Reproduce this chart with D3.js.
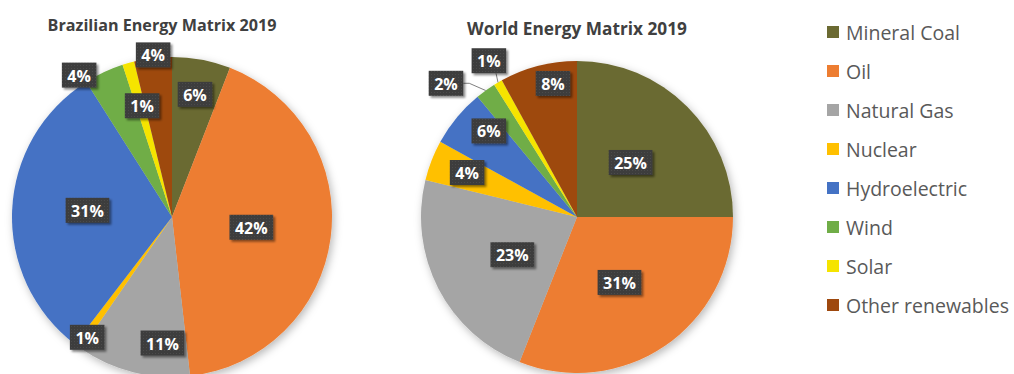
<!DOCTYPE html>
<html>
<head>
<meta charset="utf-8">
<script src="https://cdn.jsdelivr.net/npm/d3@7"></script>
<style>
  html, body { margin: 0; padding: 0; background: #fff; }
  svg { display: block; }
</style>
</head>
<body>
<svg id="chart" width="1014" height="374"></svg>
<script>
// ---- data ----
const categories = ["Mineral Coal", "Oil", "Natural Gas", "Nuclear", "Hydroelectric", "Wind", "Solar", "Other renewables"];
const brazilValues = [5.9, 42.3, 11.4, 0.8, 30.6, 4.0, 1.2, 3.8];
const worldValues = [25.0, 31.0, 22.8, 4.2, 6.0, 2.1, 0.9, 8.0];
const titles = ["Brazilian Energy Matrix 2019", "World Energy Matrix 2019"];
const colors = ["#6b6a32", "#ed7d31", "#a5a5a5", "#ffc000", "#4472c4", "#70ad47", "#f5e400", "#9e480e"];

// label placement (Excel "best fit" approximation): radius factor, angle offset (deg), leader
const brazilLabelPos = [
  {r: 0.78, da: 0}, {r: 0.50, da: 0}, {r: 0.79, da: -9.7}, {r: 0.92, da: -0.8},
  {r: 0.53, da: 2}, {r: 1.06, da: -8}, {r: 0.72, da: 0.8}, {r: 1.02, da: 0.2}
];
const worldLabelPos = [
  {r: 0.49, da: -0.5}, {r: 0.50, da: 1.2}, {r: 0.48, da: -2.9}, {r: 0.76, da: 0.8},
  {r: 0.79, da: 4.7}, {r: 1.20, da: -8.6, leader: true}, {r: 1.15, da: 1, leader: true}, {r: 0.87, da: 4.2}
];

const svg = d3.select("#chart");
const defs = svg.append("defs");

const sh = defs.append("filter").attr("id", "pieShadow")
  .attr("x", "-20%").attr("y", "-20%").attr("width", "140%").attr("height", "140%");
sh.append("feDropShadow").attr("dx", 2).attr("dy", 3).attr("stdDeviation", 4)
  .attr("flood-color", "#000").attr("flood-opacity", 0.28);

const lsh = defs.append("filter").attr("id", "labelShadow")
  .attr("x", "-30%").attr("y", "-30%").attr("width", "160%").attr("height", "160%");
lsh.append("feDropShadow").attr("dx", 2).attr("dy", 2).attr("stdDeviation", 1.2)
  .attr("flood-color", "#000").attr("flood-opacity", 0.45);

const pat = defs.append("pattern").attr("id", "dots").attr("patternUnits", "userSpaceOnUse")
  .attr("width", 3).attr("height", 3);
pat.append("rect").attr("width", 3).attr("height", 3).attr("fill", "#3c3c3c");
pat.append("rect").attr("x", 1).attr("y", 1).attr("width", 1).attr("height", 1).attr("fill", "#4c4c4c");

const pieGen = d3.pie().sort(null).value(d => d).startAngle(0).endAngle(2 * Math.PI);

function drawPie(values, labelPos, title, cx, cy, R, titleX, titleY, titleWidth) {
  const g = svg.append("g").attr("transform", `translate(${cx},${cy})`);
  const arcs = pieGen(values);
  const arcGen = d3.arc().innerRadius(0).outerRadius(R);
  const total = d3.sum(values);

  const sg = g.append("g").attr("filter", "url(#pieShadow)");
  sg.selectAll("path").data(arcs).enter().append("path")
    .attr("d", arcGen)
    .attr("fill", (d, i) => colors[i]);

  const tt = svg.append("text")
    .attr("x", titleX).attr("y", titleY)
    .attr("text-anchor", "middle")
    .attr("font-family", "'Open Sans', sans-serif")
    .attr("font-weight", "bold")
    .attr("font-size", 15)
    .attr("fill", "#404040")
    .text(title);
  const tw = tt.node().getComputedTextLength();
  tt.attr("font-size", 15 * titleWidth / tw);

  const lg = g.append("g");
  arcs.forEach((d, i) => {
    const spec = labelPos[i];
    const mid = (d.startAngle + d.endAngle) / 2;
    const a = mid + spec.da * Math.PI / 180;
    const lx = Math.sin(a) * R * spec.r;
    const ly = -Math.cos(a) * R * spec.r;
    const txt = Math.round(values[i] / total * 100) + "%";

    const item = lg.append("g");
    const t = item.append("text")
      .attr("x", lx).attr("y", ly + 0.5)
      .attr("text-anchor", "middle")
      .attr("dominant-baseline", "central")
      .attr("font-family", "'Open Sans', sans-serif")
      .attr("font-weight", "bold")
      .attr("font-size", 16)
      .attr("fill", "#ffffff")
      .text(txt);
    const w = t.node().getComputedTextLength() + 11;
    const h = 25;
    item.insert("rect", "text")
      .attr("x", lx - w / 2).attr("y", ly - h / 2)
      .attr("width", w).attr("height", h)
      .attr("fill", "url(#dots)")
      .attr("filter", "url(#labelShadow)");

    if (spec.leader) {
      const px = Math.sin(mid) * R * 1.0;
      const py = -Math.cos(mid) * R * 1.0;
      let pts;
      if (py > ly + h / 2 && Math.abs(px - lx) < w / 2) {
        pts = [[px - 2, ly + h / 2], [px, py]];
      } else {
        const sx = lx + w / 2;
        pts = [[sx, ly], [sx + 6, ly], [px, py]];
      }
      lg.insert("path", ":first-child")
        .attr("d", d3.line()(pts))
        .attr("fill", "none")
        .attr("stroke", "#7f7f7f")
        .attr("stroke-width", 1);
    }
  });
}

drawPie(brazilValues, brazilLabelPos, titles[0], 172, 217, 160, 162, 31, 229);
drawPie(worldValues, worldLabelPos, titles[1], 577, 217, 156, 577, 35, 220);

// ---- legend ----
const legend = svg.append("g").attr("transform", "translate(827,32)");
const li = legend.selectAll("g").data(categories).enter().append("g")
  .attr("transform", (d, i) => `translate(0,${i * 39})`);
li.append("rect").attr("x", 0).attr("y", -6).attr("width", 12).attr("height", 12)
  .attr("fill", (d, i) => colors[i]);
li.append("text").attr("x", 19).attr("y", 0)
  .attr("dominant-baseline", "central")
  .attr("font-family", "'Open Sans', sans-serif")
  .attr("font-size", 19.5)
  .attr("fill", "#595959")
  .text(d => d);
</script>
</body>
</html>
